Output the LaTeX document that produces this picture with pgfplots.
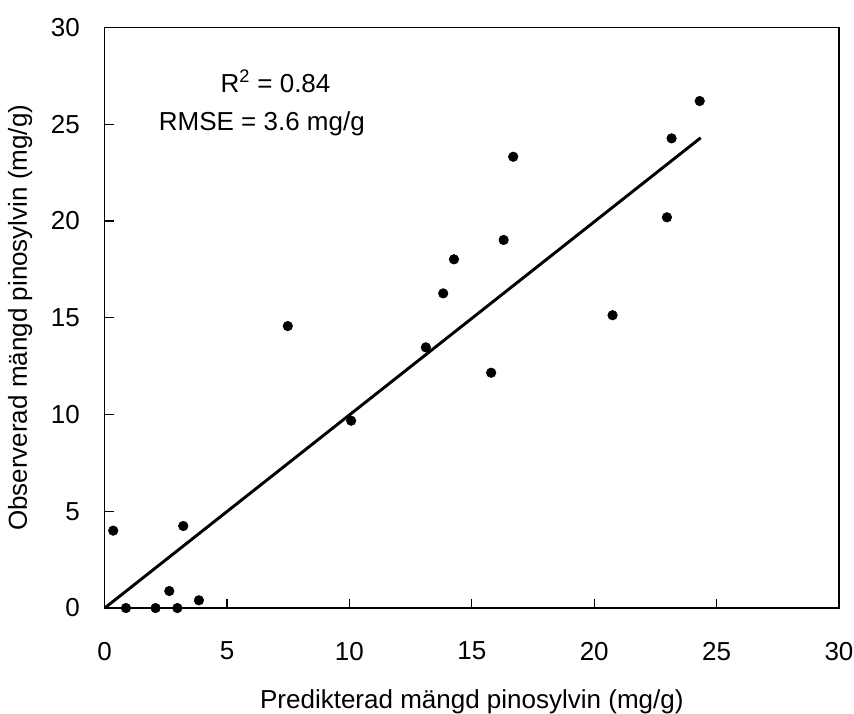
\documentclass[border=0pt]{standalone}
\usepackage{fontspec}
\setmainfont{Liberation Sans}
\usepackage{pgfplots}
\pgfplotsset{compat=1.18}

\begin{document}
\begin{tikzpicture}
\begin{axis}[
    scale only axis,
    width=550.7pt,
    height=435.4pt,
    xmin=0, xmax=30,
    ymin=0, ymax=30,
    xtick={0,5,...,30},
    ytick={0,5,...,30},
    tick align=inside,
    xtick pos=bottom,
    ytick pos=left,
    major tick length=7pt,
    axis line style={line width=1pt},
    tick style={line width=0.9pt, black},
    /pgf/number format/assume math mode=true,
    font=\fontsize{19.5pt}{23pt}\selectfont,
    xticklabel style={anchor=center, inner sep=0pt, yshift=-32.3pt},
    yticklabel style={anchor=east, inner sep=0pt, xshift=-18.5pt},
    xlabel={Predikterad mängd pinosylvin (mg/g)},
    ylabel={Observerad mängd pinosylvin (mg/g)},
    xlabel style={at={(axis description cs:0.5,0)}, anchor=base, inner sep=0pt, yshift=-75pt},
    ylabel style={at={(axis description cs:0,0.5)}, anchor=base, inner sep=0pt, yshift=58.3pt},
    clip=false,
]
\addplot[only marks, mark=*, mark size=3.6pt, black] coordinates {
(0.35,4.0) (0.87,0) (2.08,0) (2.97,0) (2.64,0.88) (3.85,0.40) (3.21,4.24)
(7.48,14.57) (10.07,9.68) (13.12,13.47) (13.83,16.26) (14.27,18.02)
(15.79,12.16) (16.30,19.02) (16.69,23.32) (20.75,15.13) (22.97,20.19)
(23.16,24.27) (24.31,26.2)
};
\addplot[black, line width=2.2pt] coordinates {(0,0) (24.35,24.3)};
\node[anchor=base, inner sep=0pt] at (axis cs:6.98,26.63) {R\textsuperscript{2} = 0.84};
\node[anchor=base, inner sep=0pt] at (axis cs:6.42,24.70) {RMSE = 3.6 mg/g};
\end{axis}
\path ([shift={(-78.5pt,-78.75pt)}]current axis.south west)
  rectangle ([shift={(11.25pt,20.6pt)}]current axis.north east);
\end{tikzpicture}
\end{document}
